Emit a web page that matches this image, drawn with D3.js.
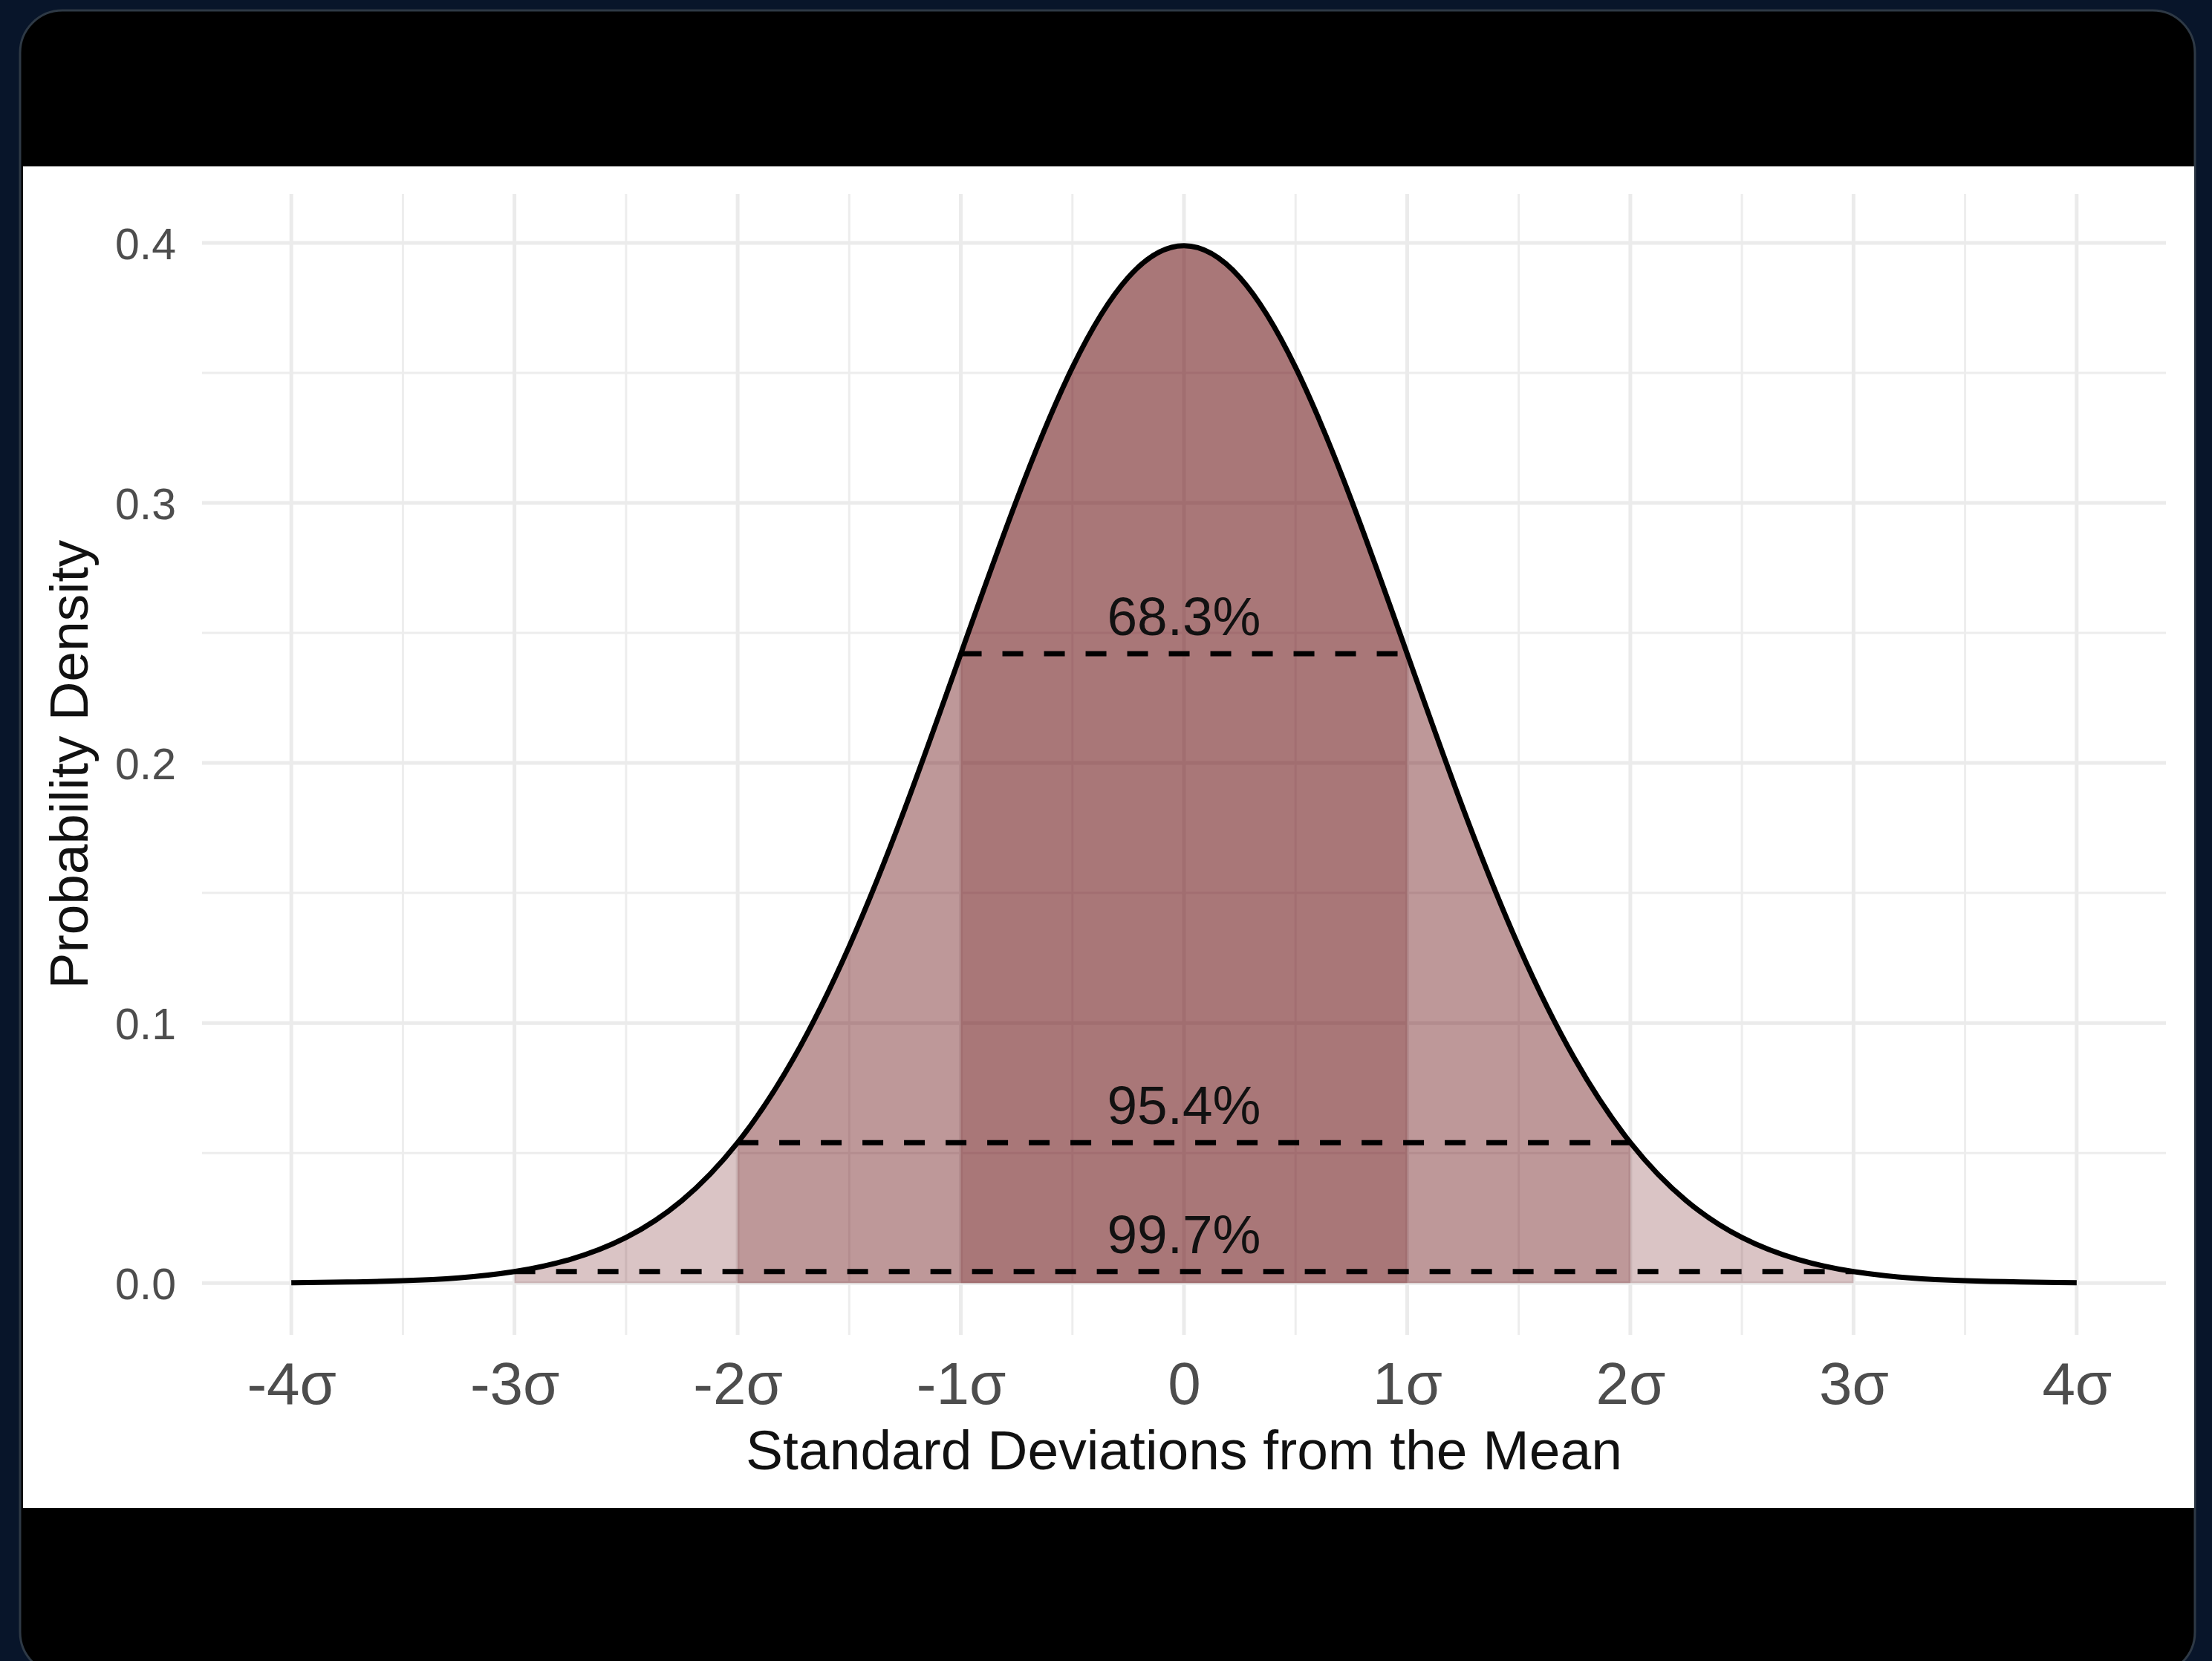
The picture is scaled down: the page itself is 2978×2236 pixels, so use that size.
<!DOCTYPE html>
<html>
<head>
<meta charset="utf-8">
<script src="https://cdn.jsdelivr.net/npm/d3@7"></script>
<style>
  html, body { margin: 0; padding: 0; background: #08152a; }
  svg { display: block; }
  text { font-family: "Liberation Sans", Arial, Helvetica, sans-serif; }
</style>
</head>
<body>
<div id="chart"></div>
<script>
// density, every quarter sigma
var sigmas = [-4, -3.75, -3.5, -3.25, -3, -2.75, -2.5, -2.25, -2, -1.75, -1.5, -1.25, -1,
  -0.75, -0.5, -0.25, 0, 0.25, 0.5, 0.75, 1, 1.25, 1.5, 1.75, 2, 2.25, 2.5, 2.75, 3,
  3.25, 3.5, 3.75, 4];
var density = [0.0001, 0.0004, 0.0009, 0.0020, 0.0044, 0.0091, 0.0175, 0.0317, 0.0540,
  0.0863, 0.1295, 0.1826, 0.2420, 0.3011, 0.3521, 0.3867, 0.3989, 0.3867, 0.3521, 0.3011,
  0.2420, 0.1826, 0.1295, 0.0863, 0.0540, 0.0317, 0.0175, 0.0091, 0.0044, 0.0020, 0.0009,
  0.0004, 0.0001];

var xTicks = [-4, -3, -2, -1, 0, 1, 2, 3, 4];
var xTickLabels = ["-4σ", "-3σ", "-2σ", "-1σ", "0", "1σ", "2σ", "3σ", "4σ"];
var xMinor = [-3.5, -2.5, -1.5, -0.5, 0.5, 1.5, 2.5, 3.5];
var yTicks = [0, 0.1, 0.2, 0.3, 0.4];
var yTickLabels = ["0.0", "0.1", "0.2", "0.3", "0.4"];
var yMinor = [0.05, 0.15, 0.25, 0.35];

// bands drawn widest first so they stack
var bandWidths = [3, 2, 1];
var bandLabels = ["99.7%", "95.4%", "68.3%"];

var W = 2978, H = 2236;
var panel = { left: 272, right: 2916, top: 261, bottom: 1797 };

var data = sigmas.map(function(s, i) { return { s: s, d: density[i] }; });

var svg = d3.select("#chart").append("svg")
  .attr("width", W)
  .attr("height", H);

// screenshot frame: dark card with a white band holding the plot
svg.append("rect")
  .attr("x", 27).attr("y", 14)
  .attr("width", 2928).attr("height", 2240)
  .attr("rx", 57).attr("ry", 57)
  .attr("fill", "#000")
  .attr("stroke", "#2e3945")
  .attr("stroke-width", 3);

svg.append("rect")
  .attr("x", 31).attr("y", 224)
  .attr("width", 2923).attr("height", 1806)
  .attr("fill", "#fff");

// ggplot style expansion of 5% on each side
var xExt = d3.extent(sigmas);
var xPad = (xExt[1] - xExt[0]) * 0.05;
var yMax = d3.max(density);
var yPad = yMax * 0.05;

var x = d3.scaleLinear()
  .domain([xExt[0] - xPad, xExt[1] + xPad])
  .range([panel.left, panel.right]);

var y = d3.scaleLinear()
  .domain([-yPad, yMax + yPad])
  .range([panel.bottom, panel.top]);

// grid
var grid = svg.append("g").attr("class", "grid");

grid.selectAll(".vminor").data(xMinor).enter()
  .append("line")
  .attr("x1", function(d) { return x(d); })
  .attr("x2", function(d) { return x(d); })
  .attr("y1", panel.top).attr("y2", panel.bottom)
  .attr("stroke", "#ededed").attr("stroke-width", 3);

grid.selectAll(".hminor").data(yMinor).enter()
  .append("line")
  .attr("x1", panel.left).attr("x2", panel.right)
  .attr("y1", function(d) { return y(d); })
  .attr("y2", function(d) { return y(d); })
  .attr("stroke", "#ededed").attr("stroke-width", 3);

grid.selectAll(".vmajor").data(xTicks).enter()
  .append("line")
  .attr("x1", function(d) { return x(d); })
  .attr("x2", function(d) { return x(d); })
  .attr("y1", panel.top).attr("y2", panel.bottom)
  .attr("stroke", "#ebebeb").attr("stroke-width", 5);

grid.selectAll(".hmajor").data(yTicks).enter()
  .append("line")
  .attr("x1", panel.left).attr("x2", panel.right)
  .attr("y1", function(d) { return y(d); })
  .attr("y2", function(d) { return y(d); })
  .attr("stroke", "#ebebeb").attr("stroke-width", 5);

// shaded bands: the full area clipped to +-k sigma
var area = d3.area()
  .x(function(d) { return x(d.s); })
  .y0(y(0))
  .y1(function(d) { return y(d.d); })
  .curve(d3.curveNatural);

var defs = svg.append("defs");
bandWidths.forEach(function(k, i) {
  defs.append("clipPath").attr("id", "band" + i)
    .append("rect")
    .attr("x", x(-k)).attr("y", panel.top)
    .attr("width", x(k) - x(-k))
    .attr("height", panel.bottom - panel.top);
});

svg.append("g").selectAll(".band").data(bandWidths).enter()
  .append("path")
  .attr("class", "band")
  .attr("d", area(data))
  .attr("clip-path", function(d, i) { return "url(#band" + i + ")"; })
  .attr("fill", "#6a1217")
  .attr("fill-opacity", 0.25);

// dashed level lines at the band edges
function densityAt(s) { return density[sigmas.indexOf(s)]; }

svg.append("g").selectAll(".level").data(bandWidths).enter()
  .append("line")
  .attr("x1", function(k) { return x(-k); })
  .attr("x2", function(k) { return x(k); })
  .attr("y1", function(k) { return y(densityAt(k)); })
  .attr("y2", function(k) { return y(densityAt(k)); })
  .attr("stroke", "#000")
  .attr("stroke-width", 7)
  .attr("stroke-dasharray", "28 28");

// the curve
var line = d3.line()
  .x(function(d) { return x(d.s); })
  .y(function(d) { return y(d.d); })
  .curve(d3.curveNatural);

svg.append("path")
  .attr("d", line(data))
  .attr("fill", "none")
  .attr("stroke", "#000")
  .attr("stroke-width", 7)
  .attr("stroke-linejoin", "round");

// percentage labels
svg.append("g").selectAll(".pct").data(bandWidths).enter()
  .append("text")
  .attr("x", x(0))
  .attr("y", function(k) { return y(densityAt(k)) - 25; })
  .attr("text-anchor", "middle")
  .attr("font-size", 73)
  .attr("fill", "#111")
  .text(function(k, i) { return bandLabels[i]; });

// axes
var xAxis = d3.axisBottom(x)
  .tickValues(xTicks)
  .tickFormat(function(d, i) { return xTickLabels[i]; })
  .tickSize(0)
  .tickPadding(0);

var gx = svg.append("g")
  .attr("transform", "translate(0,1890)")
  .call(xAxis);
gx.select(".domain").remove();
gx.selectAll("text")
  .attr("dy", null)
  .attr("y", 0)
  .attr("font-size", 80)
  .attr("fill", "#4d4d4d");
gx.attr("font-family", null).attr("font-size", null);

var yAxis = d3.axisLeft(y)
  .tickValues(yTicks)
  .tickFormat(function(d, i) { return yTickLabels[i]; })
  .tickSize(0)
  .tickPadding(0);

var gy = svg.append("g")
  .attr("transform", "translate(237,0)")
  .call(yAxis);
gy.select(".domain").remove();
gy.selectAll("text")
  .attr("dy", "0.36em")
  .attr("font-size", 59)
  .attr("fill", "#4d4d4d");
gy.attr("font-family", null).attr("font-size", null);

// axis titles
svg.append("text")
  .attr("x", (panel.left + panel.right) / 2)
  .attr("y", 1978)
  .attr("text-anchor", "middle")
  .attr("font-size", 75)
  .attr("fill", "#111")
  .text("Standard Deviations from the Mean");

svg.append("text")
  .attr("transform", "translate(118," + ((panel.top + panel.bottom) / 2) + ") rotate(-90)")
  .attr("text-anchor", "middle")
  .attr("font-size", 73)
  .attr("fill", "#111")
  .text("Probability Density");
</script>
</body>
</html>
